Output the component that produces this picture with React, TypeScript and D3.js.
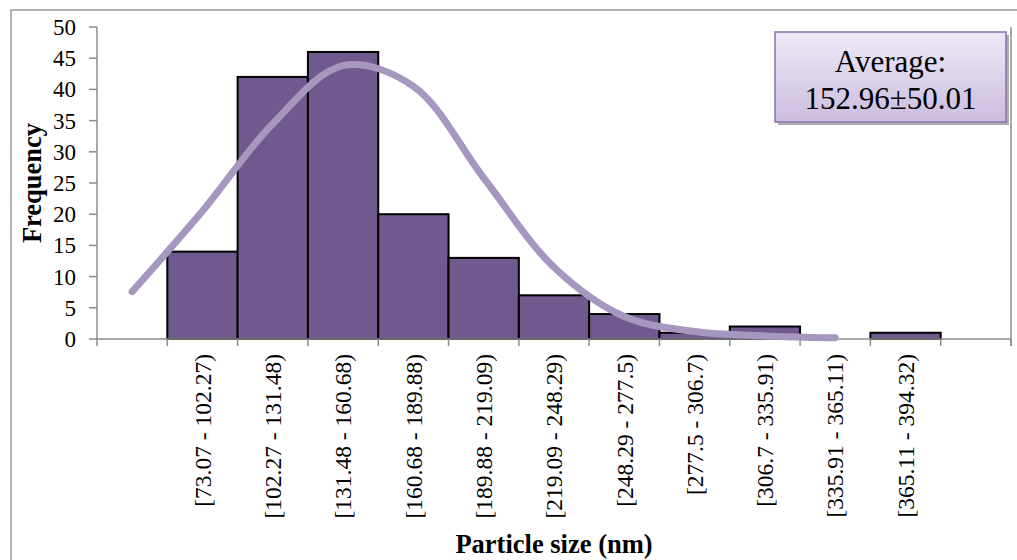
import React from "react";
import * as d3 from "d3";

const binLabels = [
  "[73.07 - 102.27)",
  "[102.27 - 131.48)",
  "[131.48 - 160.68)",
  "[160.68 - 189.88)",
  "[189.88 - 219.09)",
  "[219.09 - 248.29)",
  "[248.29 - 277.5)",
  "[277.5 - 306.7)",
  "[306.7 - 335.91)",
  "[335.91 - 365.11)",
  "[365.11 - 394.32)",
];
const frequencies = [14, 42, 46, 20, 13, 7, 4, 1, 2, 0, 1];
// fitted curve values read at slot centres 0..10
const curveValues = [7.6, 20.5, 34.5, 43.8, 40.5, 25.8, 11.5, 3.6, 1.2, 0.5, 0.2];
const yTicks = [0, 5, 10, 15, 20, 25, 30, 35, 40, 45, 50];
const legendLines = ["Average:", "152.96±50.01"];

const W = 1017;
const H = 560;
const left = 97;
const right = 1011;
const top = 27;
const bottom = 339;
const nSlots = 13;

export default function App() {
  const x = d3.scaleLinear().domain([0, nSlots]).range([left, right]);
  const y = d3.scaleLinear().domain([0, 50]).range([bottom, top]);
  const slotW = x(1) - x(0);

  const line = d3
    .line<number>()
    .x((_, i) => x(i + 0.5))
    .y((d) => y(d))
    .curve(d3.curveCatmullRom.alpha(0.5));

  const font = "'Liberation Serif', 'Times New Roman', serif";
  const axisColor = "#8c8c8c";

  return (
    <svg
      width={W}
      height={H}
      style={{ position: "absolute", left: 0, top: 0, background: "#fff" }}
      fontFamily={font}
    >
      <defs>
        <linearGradient id="lg" x1="0" y1="0" x2="0" y2="1">
          <stop offset="0%" stopColor="#efe9f7" />
          <stop offset="100%" stopColor="#cbbde0" />
        </linearGradient>
      </defs>
      {/* outer chart frame */}
      <rect x={11} y={10} width={1100} height={700} fill="none" stroke="#9a9a9a" strokeWidth={1.5} />

      {/* bars */}
      {frequencies.map((f, i) => (
        <rect
          key={i}
          x={x(i + 1)}
          y={y(f)}
          width={slotW}
          height={y(0) - y(f)}
          fill="#70598f"
          stroke="#000"
          strokeWidth={2}
        />
      ))}

      {/* axes */}
      <line x1={left} x2={left} y1={top} y2={bottom} stroke={axisColor} strokeWidth={1.5} />
      <line x1={right} x2={right} y1={top} y2={bottom + 7} stroke={axisColor} strokeWidth={1.5} />
      <line x1={left} x2={right} y1={bottom} y2={bottom} stroke={axisColor} strokeWidth={1.5} />
      {yTicks.map((t) => (
        <g key={t}>
          <line x1={left - 8} x2={left} y1={y(t)} y2={y(t)} stroke={axisColor} strokeWidth={1.5} />
          <text x={76} y={y(t)} dy="0.35em" textAnchor="end" fontSize={23} fill="#000">
            {t}
          </text>
        </g>
      ))}
      {d3.range(nSlots + 1).map((i) => (
        <line key={i} x1={x(i)} x2={x(i)} y1={bottom} y2={bottom + 7} stroke={axisColor} strokeWidth={1.5} />
      ))}

      {/* curve */}
      <path
        d={line(curveValues) || ""}
        fill="none"
        stroke="#a697be"
        strokeWidth={7}
        strokeLinecap="round"
        strokeLinejoin="round"
      />

      {/* x labels */}
      {binLabels.map((l, i) => (
        <text
          key={l}
          transform={`translate(${x(i + 1.5)},${354}) rotate(-90)`}
          textAnchor="end"
          dy="0.35em"
          fontSize={23.5}
          fill="#000"
        >
          {l}
        </text>
      ))}

      {/* axis titles */}
      <text x={(left + right) / 2} y={553} textAnchor="middle" fontSize={26.5} fontWeight="bold">
        Particle size (nm)
      </text>
      <text
        transform={`translate(41,${(top + bottom) / 2}) rotate(-90)`}
        textAnchor="middle"
        fontSize={26.5}
        fontWeight="bold"
      >
        Frequency
      </text>

      {/* legend box */}
      <rect x={778} y={35} width={231} height={90} fill="#9a9a9a" opacity={0.8} />
      <rect x={775} y={32} width={231} height={90} fill="url(#lg)" stroke="#8a72ab" strokeWidth={1.5} />
      {legendLines.map((t, i) => (
        <text key={t} x={890.5} y={72 + i * 36.5} textAnchor="middle" fontSize={31} fill="#000">
          {t}
        </text>
      ))}
    </svg>
  );
}
